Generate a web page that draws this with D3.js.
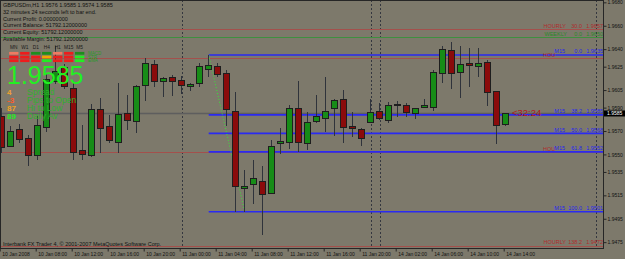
<!DOCTYPE html>
<html>
<head>
<meta charset="utf-8">
<script src="https://cdn.jsdelivr.net/npm/d3@7"></script>
<style>
  body { margin: 0; background: #7d796b; }
  svg { display: block; font-family: "Liberation Sans", Arial, sans-serif; }
</style>
</head>
<body>
<div id="chart"></div>
<script>
const w = 625;
const h = 259;
const plotW = 603;
const plotH = 248;

// GBPUSD H1 bars, one per hour
const open  = [1.9582, 1.9557, 1.9571, 1.9564, 1.9549, 1.9573, 1.9612, 1.9624, 1.9606, 1.9553,
               1.9549, 1.9588, 1.9574, 1.9560, 1.9585, 1.9578, 1.9609, 1.9627, 1.9612, 1.9616,
               1.9613, 1.9608, 1.9611, 1.9623, 1.9625, 1.9619, 1.9587, 1.9521, 1.9524, 1.9527,
               1.9517, 1.9559, 1.9560, 1.9589, 1.9559, 1.9578, 1.9581, 1.9589, 1.9597, 1.9574,
               1.9571, 1.9577, 1.9587, 1.9579, 1.9593, 1.9592, 1.9585, 1.9590, 1.9590, 1.9619,
               1.9639, 1.9620, 1.9628, 1.9625, 1.9629, 1.9604, 1.9576];
const high  = [1.9590, 1.9574, 1.9576, 1.9567, 1.9583, 1.9619, 1.9643, 1.9627, 1.9613, 1.9575,
               1.9593, 1.9598, 1.9584, 1.9611, 1.9601, 1.9609, 1.9632, 1.9631, 1.9616, 1.9618,
               1.9617, 1.9611, 1.9628, 1.9635, 1.9628, 1.9622, 1.9603, 1.9537, 1.9545, 1.9540,
               1.9562, 1.9573, 1.9592, 1.9613, 1.9586, 1.9601, 1.9616, 1.9597, 1.9605, 1.9586,
               1.9573, 1.9597, 1.9594, 1.9595, 1.9596, 1.9594, 1.9590, 1.9597, 1.9622, 1.9643,
               1.9646, 1.9643, 1.9641, 1.9641, 1.9631, 1.9604, 1.9585];
const low   = [1.9551, 1.9556, 1.9560, 1.9540, 1.9545, 1.9569, 1.9610, 1.9606, 1.9545, 1.9545,
               1.9548, 1.9551, 1.9560, 1.9551, 1.9571, 1.9568, 1.9596, 1.9608, 1.9599, 1.9600,
               1.9602, 1.9604, 1.9608, 1.9616, 1.9616, 1.9574, 1.9501, 1.9501, 1.9508, 1.9481,
               1.9516, 1.9550, 1.9555, 1.9552, 1.9554, 1.9577, 1.9569, 1.9566, 1.9560, 1.9565,
               1.9557, 1.9577, 1.9579, 1.9577, 1.9582, 1.9582, 1.9580, 1.9590, 1.9587, 1.9611,
               1.9606, 1.9598, 1.9608, 1.9616, 1.9591, 1.9559, 1.9574];
const close = [1.9556, 1.9570, 1.9563, 1.9549, 1.9575, 1.9614, 1.9621, 1.9608, 1.9552, 1.9550,
               1.9588, 1.9572, 1.9562, 1.9584, 1.9579, 1.9608, 1.9628, 1.9612, 1.9615, 1.9612,
               1.9609, 1.9610, 1.9625, 1.9626, 1.9618, 1.9588, 1.9523, 1.9523, 1.9529, 1.9516,
               1.9557, 1.9561, 1.9589, 1.9560, 1.9577, 1.9582, 1.9587, 1.9596, 1.9573, 1.9572,
               1.9564, 1.9586, 1.9581, 1.9592, 1.9593, 1.9586, 1.9589, 1.9592, 1.9620, 1.9640,
               1.9619, 1.9627, 1.9626, 1.9628, 1.9603, 1.9575, 1.9585];

const timeLabels = ['10 Jan 2008', '10 Jan 08:00', '10 Jan 12:00', '10 Jan 16:00', '10 Jan 20:00',
                    '11 Jan 00:00', '11 Jan 04:00', '11 Jan 08:00', '11 Jan 12:00', '11 Jan 16:00',
                    '11 Jan 20:00', '14 Jan 02:00', '14 Jan 06:00', '14 Jan 10:00', '14 Jan 14:00'];
const priceTicks = [1.9680, 1.9660, 1.9640, 1.9625, 1.9605, 1.9590,
                    1.9570, 1.9550, 1.9535, 1.9515, 1.9495, 1.9475];
const daySeparators = [20, 41, 42, 66];

// fibonacci / pivot levels drawn by the indicators
const hourlyPrices = [1.9657, 1.9632, 1.9552, 1.9472];
const hourlyNames  = ['HOURLY', 'HOU', 'HOU', 'HOURLY'];
const hourlyPcts   = ['30.0', '', '', '138.2'];
const hourlyText   = ['1.9657', '', '', '1.9472'];
const weeklyPrices = [1.9650];
const weeklyPcts   = ['0.0'];
const weeklyText   = ['1.9650'];
const m15Prices = [1.9635, 1.95838, 1.9568, 1.95522, 1.9501];
const m15Pcts   = ['0.0', '38.2', '50.0', '61.8', '100.0'];
const m15Text   = ['1.9635', '1.9585', '1.9568', '1.9552', '1.9501'];
const fibFrom = 23;
const fibTo = 27;

const infoLines = ['GBPUSDm,H1  1.9576 1.9585 1.9574 1.9585',
                   '32 minutes 24 seconds left to bar end.',
                   'Current Profit: 0.00000000',
                   'Current Balance: 51792.12000000',
                   'Current Equity: 51792.12000000',
                   'Available Margin: 51792.12000000'];
const barTimer = '32:24';

const timeframes = ['MN', 'W1', 'D1', 'H4', 'H1', 'M15', 'M5'];
const signalNames = ['MACD', 'STR', 'EMA'];
const macdSig = ['w', 'd', 'u', 'u', 'w', 'd', 'u'];
const strSig  = ['d', 'd', 'd', 'n', 'd', 'd', 'U'];
const emaSig  = ['d', 'd', 'd', 'U', 'd', 'd', 'U'];

const statValues = ['4', '-3', '87', '89'];
const statNames = ['Spread', 'Pips to Open', 'Hi to Low', 'Daily Av'];

const copyright = 'Interbank FX Trader 4, \u00a9 2001-2007 MetaQuotes Software Corp.';

const sigColor = {d: '#ee1c1c', w: '#f07a62', u: '#1d8f1d', U: '#22ee22', n: '#f0a800'};
const statColor = ['#f0a030', '#ff5a2a', '#f0a020', '#22ee22'];

const x = d3.scaleLinear().domain([0, 66]).range([1.7, 595.7]);
const y = d3.scaleLinear().domain([1.9470, 1.9682]).range([plotH, 0]);

const svg = d3.select('#chart')
    .append('svg')
    .attr('width', w)
    .attr('height', h);

// day separators
svg.selectAll('.sep')
    .data(daySeparators)
    .enter()
    .append('line')
    .attr('x1', d => Math.round(x(d)) + 0.5)
    .attr('x2', d => Math.round(x(d)) + 0.5)
    .attr('y1', 0)
    .attr('y2', plotH)
    .attr('stroke', '#34373f')
    .attr('stroke-dasharray', '2,2');

// hourly levels (full width)
svg.selectAll('.hourly')
    .data(hourlyPrices)
    .enter()
    .append('line')
    .attr('x1', 0)
    .attr('x2', plotW)
    .attr('y1', d => Math.round(y(d)) + 0.5)
    .attr('y2', d => Math.round(y(d)) + 0.5)
    .attr('stroke', '#a3504c');

svg.selectAll('.weekly')
    .data(weeklyPrices)
    .enter()
    .append('line')
    .attr('x1', 0)
    .attr('x2', plotW)
    .attr('y1', d => Math.round(y(d)) + 0.5)
    .attr('y2', d => Math.round(y(d)) + 0.5)
    .attr('stroke', '#3f8f3f');

// bid line
svg.append('line')
    .attr('x1', 0)
    .attr('x2', plotW)
    .attr('y1', y(close[close.length - 1]))
    .attr('y2', y(close[close.length - 1]))
    .attr('stroke', '#5e5e5e')
    .attr('stroke-width', 1.6);

// M15 fibo levels
svg.selectAll('.m15')
    .data(m15Prices)
    .enter()
    .append('line')
    .attr('x1', x(fibFrom))
    .attr('x2', plotW)
    .attr('y1', d => y(d))
    .attr('y2', d => y(d))
    .attr('stroke', '#2a2af2')
    .attr('stroke-width', 1.6);

svg.append('line')
    .attr('x1', x(fibFrom))
    .attr('y1', y(m15Prices[0]))
    .attr('x2', x(fibTo))
    .attr('y2', y(m15Prices[m15Prices.length - 1]))
    .attr('stroke', '#36e836')
    .attr('stroke-dasharray', '1,2');

// candles
const bars = svg.selectAll('.bar')
    .data(open.map((o, i) => ({i, o, h: high[i], l: low[i], c: close[i]})))
    .enter()
    .append('g')
    .attr('shape-rendering', 'crispEdges');

bars.append('line')
    .attr('x1', d => x(d.i))
    .attr('x2', d => x(d.i))
    .attr('y1', d => y(d.h))
    .attr('y2', d => y(d.l))
    .attr('stroke', '#2f333b');

bars.append('rect')
    .attr('x', d => x(d.i) - 3)
    .attr('width', 6)
    .attr('y', d => y(Math.max(d.o, d.c)))
    .attr('height', d => Math.max(1, Math.abs(y(d.o) - y(d.c))))
    .attr('fill', d => d.c > d.o ? '#178c17' : d.c < d.o ? '#8b0b0b' : '#2f333b')
    .attr('stroke', '#1e1e1e');

// level labels
const levelText = (names, pcts, texts, prices, color, xName) => {
    prices.forEach((p, i) => {
        const ty = y(p) - 1.5;
        svg.append('text').text(names[i])
            .attr('x', names[i] === 'HOU' ? 543 : xName)
            .attr('text-anchor', names[i] === 'HOU' ? 'start' : 'end')
            .attr('y', ty).attr('font-size', 5.5).attr('fill', color);
        svg.append('text').text(pcts[i])
            .attr('x', 582).attr('text-anchor', 'end')
            .attr('y', ty).attr('font-size', 5.5).attr('fill', color);
        svg.append('text').text(texts[i])
            .attr('x', 603).attr('text-anchor', 'end')
            .attr('y', ty).attr('font-size', 5.5).attr('fill', color);
    });
};
levelText(hourlyNames, hourlyPcts, hourlyText, hourlyPrices, '#b02c2c', 566);
levelText(weeklyPrices.map(() => 'WEEKLY'), weeklyPcts, weeklyText, weeklyPrices, '#2a8a2a', 567);
levelText(m15Prices.map(() => 'M15'), m15Pcts, m15Text, m15Prices, '#2626ee', 565);

svg.append('text')
    .text('<' + barTimer)
    .attr('x', 512)
    .attr('y', y(close[close.length - 1]) + 3)
    .attr('font-size', 9.5)
    .attr('fill', '#b01a1a');

// info block
svg.selectAll('.info')
    .data(infoLines)
    .enter()
    .append('text')
    .text(d => d)
    .attr('x', 3)
    .attr('y', (d, i) => 7.3 + i * 6.7)
    .attr('font-size', 5.5)
    .attr('fill', '#111');

// signal grid
const colScale = d3.scaleBand().domain(timeframes).range([7.5, 86]).padding(0.15);
const rowScale = d3.scaleBand().domain(signalNames).range([51, 63]).padding(0.25);
const signals = [macdSig, strSig, emaSig];

svg.selectAll('.tf')
    .data(timeframes)
    .enter()
    .append('text')
    .text(d => d)
    .attr('x', d => colScale(d) + colScale.bandwidth() / 2)
    .attr('y', 49)
    .attr('text-anchor', 'middle')
    .attr('font-size', 4.8)
    .attr('fill', '#1a1a1a');

signals.forEach((row, r) => {
    svg.selectAll('.sig' + r)
        .data(row)
        .enter()
        .append('rect')
        .attr('x', (d, i) => colScale(timeframes[i]))
        .attr('y', rowScale(signalNames[r]))
        .attr('width', colScale.bandwidth())
        .attr('height', rowScale.bandwidth())
        .attr('fill', d => sigColor[d]);
});

svg.selectAll('.sigName')
    .data(signalNames)
    .enter()
    .append('text')
    .text(d => d)
    .attr('x', 88)
    .attr('y', d => rowScale(d) + rowScale.bandwidth() / 2 + 1.6)
    .attr('font-size', 4.5)
    .attr('fill', '#2a9a2a');

svg.append('text')
    .text(close[close.length - 1].toFixed(4))
    .attr('x', 7)
    .attr('y', 84)
    .attr('font-size', 25)
    .attr('fill', '#22f022');

const statScale = d3.scalePoint().domain(statNames).range([95, 119]);

svg.selectAll('.statVal')
    .data(statValues)
    .enter()
    .append('text')
    .text(d => d)
    .attr('x', 7)
    .attr('y', (d, i) => statScale(statNames[i]))
    .attr('font-size', 8)
    .attr('font-weight', 'bold')
    .attr('fill', (d, i) => statColor[i]);

svg.selectAll('.statName')
    .data(statNames)
    .enter()
    .append('text')
    .text(d => d)
    .attr('x', 27)
    .attr('y', d => statScale(d))
    .attr('font-size', 8.5)
    .attr('fill', '#2fb02f');

svg.append('text')
    .text(copyright)
    .attr('x', 3)
    .attr('y', 245.5)
    .attr('font-size', 5.5)
    .attr('fill', '#111');

// frame
svg.append('rect')
    .attr('x', 0.5)
    .attr('y', 0.5)
    .attr('width', plotW)
    .attr('height', plotH)
    .attr('fill', 'none')
    .attr('stroke', '#262626');

// axes
const xAxis = d3.axisBottom(x)
    .tickValues(d3.range(0, close.length, 4))
    .tickFormat((d, i) => timeLabels[i])
    .tickSize(3);

const gx = svg.append('g')
    .attr('transform', `translate(-2, ${plotH + 0.5})`)
    .call(xAxis);
gx.select('.domain').remove();
gx.selectAll('line').attr('stroke', '#262626');
gx.selectAll('text')
    .attr('text-anchor', 'start')
    .attr('x', 2)
    .attr('y', 4)
    .attr('font-size', 5)
    .attr('font-family', null)
    .attr('fill', '#111');

const yAxis = d3.axisRight(y)
    .tickValues(priceTicks)
    .tickFormat(d3.format('.4f'))
    .tickSize(3)
    .tickPadding(1);
const gy = svg.append('g')
    .attr('transform', `translate(${plotW + 0.5}, 0)`)
    .call(yAxis);
gy.select('.domain').remove();
gy.selectAll('line').attr('stroke', '#262626');
gy.selectAll('text')
    .attr('font-size', 5)
    .attr('font-family', null)
    .attr('fill', '#111');

// current price tag
const last = close[close.length - 1];
svg.append('rect')
    .attr('x', plotW + 1)
    .attr('y', y(last) - 3)
    .attr('width', w - plotW - 1)
    .attr('height', 6)
    .attr('fill', '#000');
svg.append('text')
    .text(last.toFixed(4))
    .attr('x', plotW + 4)
    .attr('y', y(last) + 1.8)
    .attr('font-size', 5)
    .attr('fill', '#fff');
</script>
</body>
</html>
